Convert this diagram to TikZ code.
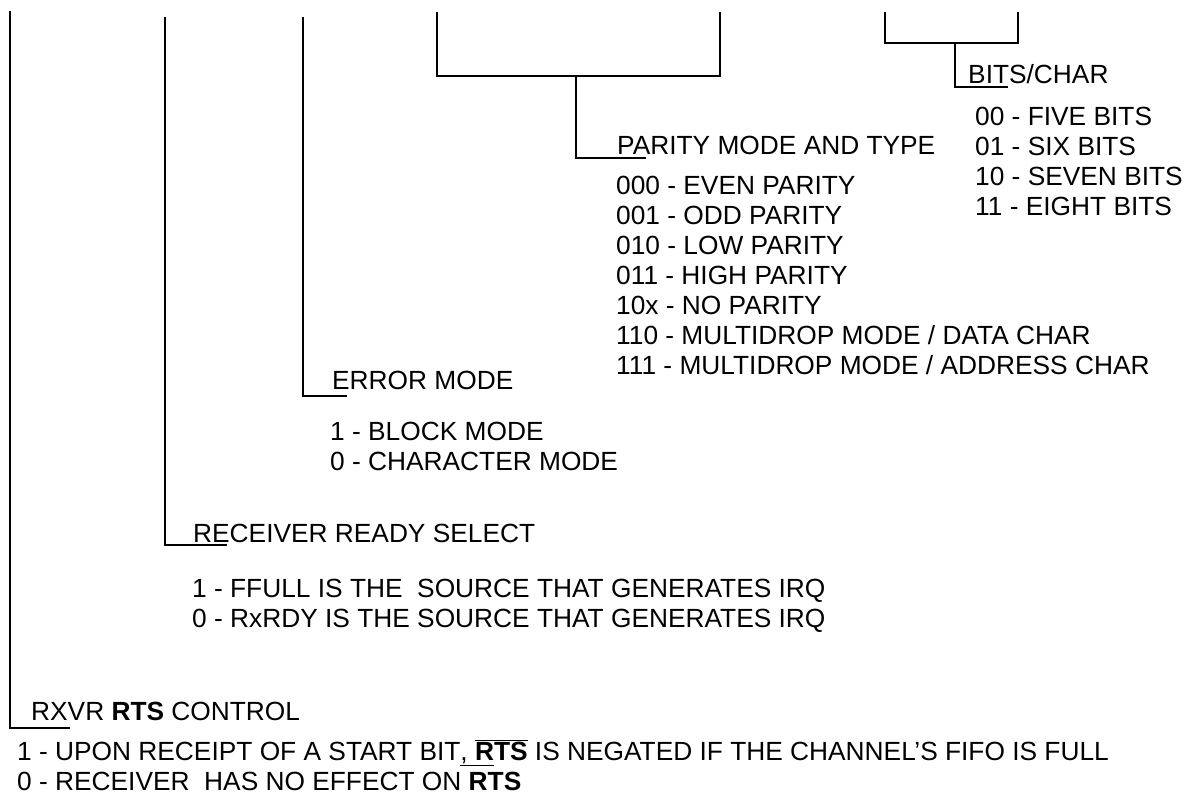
\documentclass[tikz,border=0pt]{standalone}
\usepackage{fontspec}
\setmainfont{Liberation Sans}
\usetikzlibrary{positioning}

\tikzset{
  field/.style={anchor=base west, inner sep=0pt},
  % multi-line: base is the baseline of the last line
  choice/.style={anchor=base west, inner sep=0pt, align=left},
  wire/.style={draw, line width=1.8pt}
}

\begin{document}
\begin{tikzpicture}[x=1pt, y=-1pt, font=\fontsize{26.3pt}{30pt}\selectfont]
  \useasboundingbox (0,0) rectangle (1195,809);

  % register bit positions
  \coordinate (rtsTop) at (10,11);
  \coordinate (rdyTop) at (165,17);
  \coordinate (errTop) at (303,17);
  \coordinate (parL) at (437,12);
  \coordinate (parR) at (720,12);
  \coordinate (parJ) at (576,76);
  \coordinate (bitL) at (885,12);
  \coordinate (bitR) at (1018,12);
  \coordinate (bitJ) at (955,43);

  % bits per character
  \node[field] (bits) at (968,83) {BITS/CHAR};
  \node[choice] (bitsel) at (975,215) {00 - FIVE BITS\\01 - SIX BITS\\10 - SEVEN BITS\\11 - EIGHT BITS};
  \coordinate (bitE) at (1008,87);
  \path[wire] (bitL) |- (bitJ) -| (bitR);
  \path[wire] (bitJ) |- (bitE);

  % parity
  \node[field] (parity) at (617,154) {PARITY MODE AND TYPE};
  \node[choice] (parsel) at (616,374) {000 - EVEN PARITY\\001 - ODD PARITY\\010 - LOW PARITY\\011 - HIGH PARITY\\10x - NO PARITY\\110 - MULTIDROP MODE / DATA CHAR\\111 - MULTIDROP MODE / ADDRESS CHAR};
  \coordinate (parE) at (646,158);
  \path[wire] (parL) |- (parJ) -| (parR);
  \path[wire] (parJ) |- (parE);

  % error mode
  \node[field] (errmode) at (332,389) {ERROR MODE};
  \node[choice] (errsel) at (330,470) {1 - BLOCK MODE\\0 - CHARACTER MODE};
  \coordinate (errE) at (347,396);
  \path[wire] (errTop) |- (errE);

  % receiver ready select
  \node[field] (rdysel) at (193,542) {RECEIVER READY SELECT};
  \node[choice] (rdyopt) at (192,627) {1 - FFULL IS THE\ \ SOURCE THAT GENERATES IRQ\\0 - RxRDY IS THE SOURCE THAT GENERATES IRQ};
  \coordinate (rdyE) at (227,545);
  \path[wire] (rdyTop) |- (rdyE);

  % rts control
  \node[field] (rtsctl) at (31,720) {RXVR \textbf{RTS} CONTROL};
  \node[choice] (rtsopt) at (17,790) {1 - UPON RECEIPT OF A START BIT\rlap{\underline{\phantom{, R}}}, $\overline{\hbox{\textbf{RTS}}}$ IS NEGATED IF THE CHANNEL'S FIFO IS FULL\\0 - RECEIVER\ \ HAS NO EFFECT ON \textbf{RTS}};
  \coordinate (rtsE) at (70,728);
  \path[wire] (rtsTop) |- (rtsE);
\end{tikzpicture}
\end{document}
